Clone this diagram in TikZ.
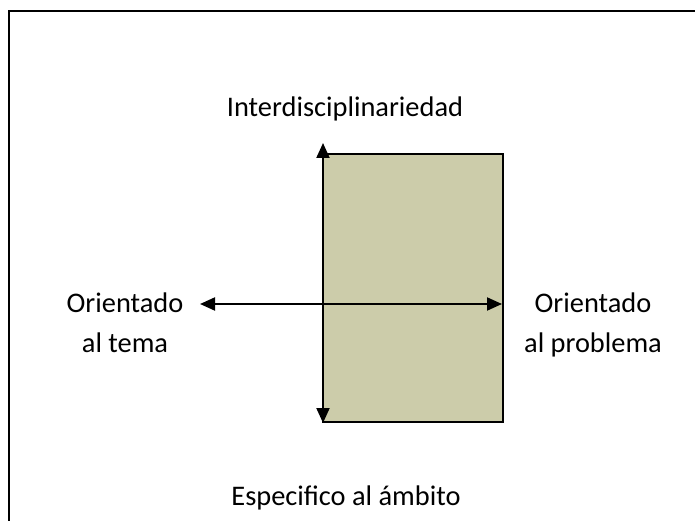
\documentclass[tikz,border=0pt]{standalone}
\usepackage{fontspec}
\setmainfont{Carlito}
\usetikzlibrary{arrows.meta}
\definecolor{boxfill}{RGB}{204,204,170}
\begin{document}
\begin{tikzpicture}[x=1bp,y=-1bp,>={Triangle[length=15bp,width=13bp]},
    lbl/.style={font=\fontsize{28.5}{40}\selectfont,align=center}]
    \useasboundingbox (0,0) rectangle (695,521);
    \draw[line width=2.2bp] (9,521) -- (9,11) -- (695,11);
    \draw[fill=boxfill,line width=2bp] (323,154) rectangle (503,422);
    \coordinate (top) at (323,143);
    \coordinate (bot) at (323,423);
    \coordinate (lft) at (200,304);
    \coordinate (rgt) at (502,304);
    \draw[<->,line width=2bp] (bot) -- (top);
    \draw[<->,line width=2bp] (lft) -- (rgt);
    \node[lbl,anchor=base] (inter) at (345,117) {Interdisciplinariedad};
    \node[lbl] (tema) at (125,323) {Orientado\\al tema};
    \node[lbl] (prob) at (593,325) {Orientado\\al problema};
    \node[lbl,anchor=base] (esp) at (346,505) {Especifico al ámbito};
\end{tikzpicture}
\end{document}
